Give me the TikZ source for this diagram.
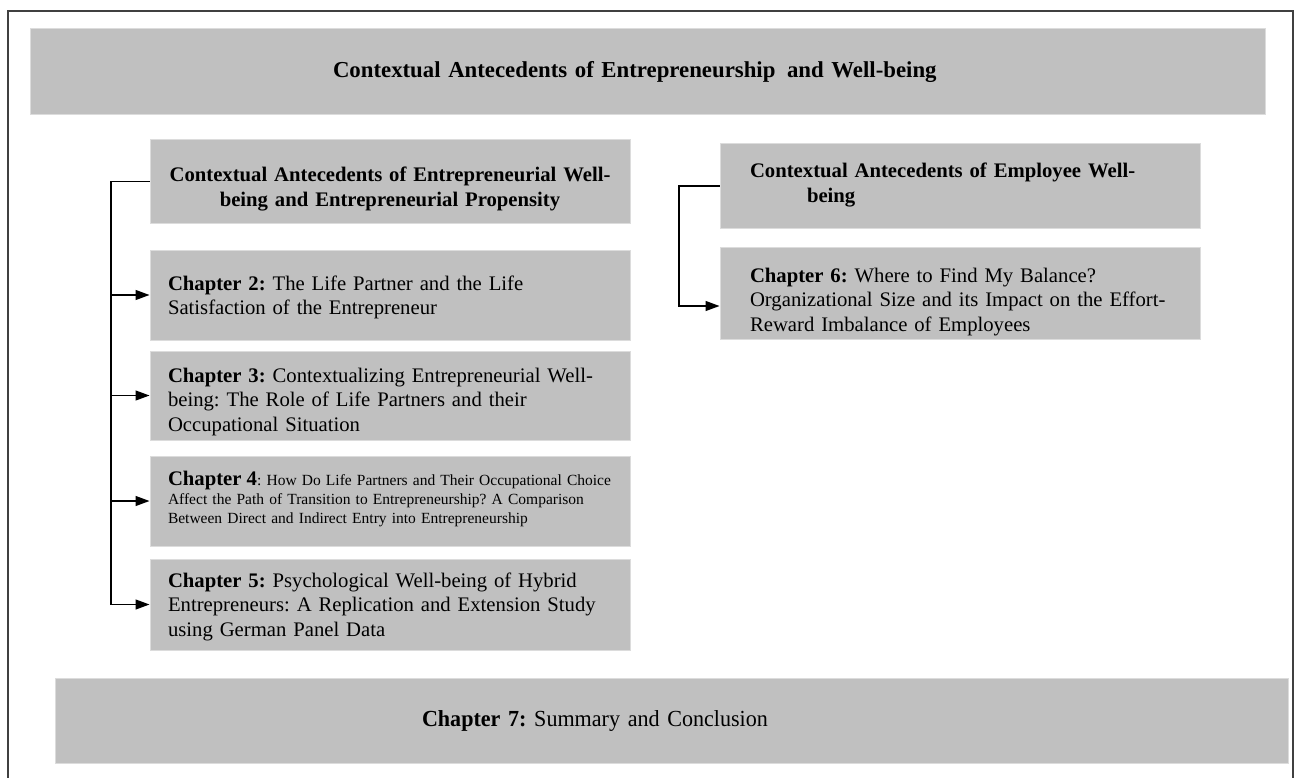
\documentclass[tikz,border=0pt]{standalone}
\usepackage{fontspec}
\setmainfont{Liberation Serif}
\newfontfamily\narrowserif[FakeStretch=0.96]{Liberation Serif}
\usetikzlibrary{arrows.meta,positioning}

\definecolor{boxgray}{RGB}{192,192,192}
\definecolor{boxline}{RGB}{220,220,220}
\definecolor{framegray}{RGB}{64,64,64}

\newcommand{\bodyfont}{\fontsize{20.7}{24.5}\selectfont}
\newcommand{\smallbody}{\fontsize{15.5}{19}\selectfont}
\newcommand{\bigbody}{\fontsize{22.8}{27}\selectfont}

\tikzset{
  greybox/.style={fill=boxgray, draw=boxline, line width=1pt, inner ysep=0pt},
  headbox/.style={greybox, minimum width=480pt, font=\bodyfont\bfseries},
  chapbox/.style={greybox, minimum width=480pt, text width=444pt, inner xsep=18pt, align=left},
  widebox/.style={greybox, inner xsep=0pt, align=left},
  link/.style={line width=1.3pt, black},
  flow/.style={link, -{Triangle[length=14pt,width=10pt]}}
}

\begin{document}
\frenchspacing
\begin{tikzpicture}[x=1pt, y=-1pt, every node/.style={font=\bodyfont}]

\useasboundingbox (0,0) rectangle (1300,778);

% outer frame (open at the bottom)
\draw[framegray, line width=1.5pt] (8,778) -- (8,11) -- (1293,11) -- (1293,778);

% TITLE
\node[widebox, minimum width=1235pt, minimum height=86pt, text width=1235pt,
      font=\bigbody\bfseries] (title) at (647.5,72)
  {\hspace*{303pt}Contextual Antecedents of Entrepreneurship\hspace{4pt} and Well-being};

% LEFT COLUMN
\node[headbox, minimum height=83pt, text width=460pt, inner xsep=10pt, align=center,
      text height=42pt, text depth=41pt] (hdl) at (390,181.5)
  {Contextual Antecedents of Entrepreneurial Well-\\being and Entrepreneurial Propensity};

\node[chapbox, minimum height=90pt, text height=40pt, text depth=50pt] (ch2) at (390,295)
  {\textbf{Chapter 2:} The Life Partner and the Life\\Satisfaction of the Entrepreneur};

\node[chapbox, minimum height=89pt, text height=31pt, text depth=58pt] (ch3) at (390,395.5)
  {\textbf{Chapter 3:} Contextualizing Entrepreneurial Well-\\being: The Role of Life Partners and their\\Occupational Situation};

\node[chapbox, minimum height=90pt, text height=29pt, text depth=61pt, font=\smallbody]
  (ch4) at (390,501)
  {{\bodyfont\bfseries Chapter 4}: How Do Life Partners and Their Occupational Choice\\Affect the Path of Transition to Entrepreneurship? A Comparison\\Between Direct and Indirect Entry into Entrepreneurship};

\node[chapbox, minimum height=91pt, text height=28pt, text depth=63pt] (ch5) at (390,604.5)
  {\textbf{Chapter 5:} Psychological Well-being of Hybrid\\Entrepreneurs: A Replication and Extension Study\\using German Panel Data};

\coordinate (lspine) at (111,0);
\draw[link] (hdl.west) -| (lspine |- ch5.west);
\foreach \c in {ch2,ch3,ch4,ch5}
  \draw[flow] (lspine |- \c.west) -- (\c.west);

% RIGHT COLUMN
\node[headbox, minimum height=84pt, text width=420pt, inner xsep=30pt, align=left,
      text height=34pt, text depth=50pt] (hdr) at (960,186)
  {Contextual Antecedents of Employee Well-\\\hspace*{57pt}being};

\node[chapbox, minimum height=92pt, text width=420pt, inner xsep=30pt,
      text height=35pt, text depth=57pt] (ch6) at (960,293)
  {\textbf{Chapter 6:} Where to Find My Balance?\\Organizational Size and its Impact on the Effort-\\Reward Imbalance of Employees};

\coordinate (rspine) at (679,0);
\coordinate (ch6in) at ([yshift=-13pt]ch6.west);
\draw[flow] (hdr.west) -| (rspine |- ch6in) -- (ch6in);

% CLOSING CHAPTER
\node[widebox, minimum width=1233pt, minimum height=85pt, text width=1233pt,
      font=\narrowserif\fontsize{23}{28}\selectfont] (ch7) at (671.5,720.5)
  {\hspace*{367pt}\textbf{Chapter 7:} Summary and Conclusion};

\end{tikzpicture}
\end{document}
